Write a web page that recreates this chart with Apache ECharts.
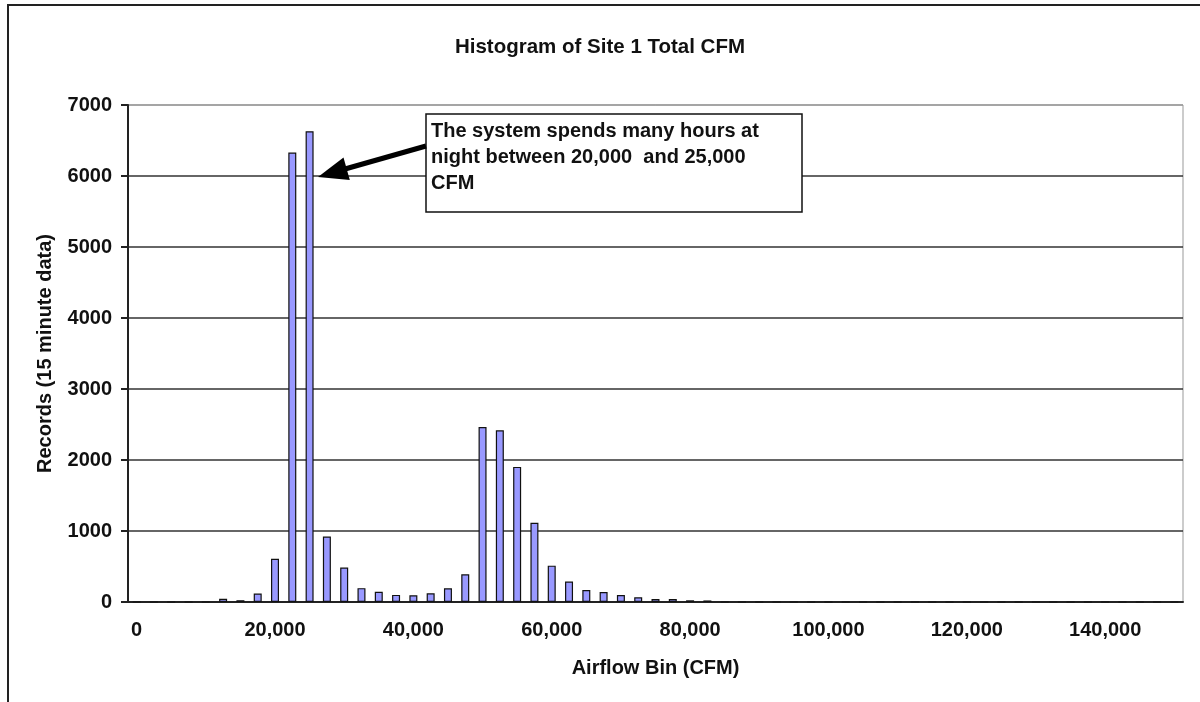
<!DOCTYPE html>
<html>
<head>
<meta charset="utf-8">
<script src="https://cdn.jsdelivr.net/npm/echarts@6/dist/echarts.min.js"></script>
<style>
  html, body { margin: 0; padding: 0; background: #fff; }
  #chart { width: 1200px; height: 702px; }
</style>
</head>
<body>
<div id="chart"></div>
<script>
// airflow bins (CFM), 2,500 wide
const bins = [
  0, 2500, 5000, 7500, 10000, 12500, 15000, 17500, 20000, 22500,
  25000, 27500, 30000, 32500, 35000, 37500, 40000, 42500, 45000, 47500,
  50000, 52500, 55000, 57500, 60000, 62500, 65000, 67500, 70000, 72500,
  75000, 77500, 80000, 82500, 85000, 87500, 90000, 92500, 95000, 97500,
  100000, 102500, 105000, 107500, 110000, 112500, 115000, 117500, 120000, 122500,
  125000, 127500, 130000, 132500, 135000, 137500, 140000, 142500, 145000, 147500,
  150000
]

// records per bin (15 minute data)
const records = [
  0, 0, 0, 0, 0, 45, 25, 120, 608, 6330,
  6630, 923, 485, 195, 145, 100, 95, 122, 193, 390,
  2465, 2418, 1903, 1115, 512, 287, 170, 141, 99, 66,
  42, 42, 24, 22, 0, 0, 0, 0, 0, 0,
  0, 0, 0, 0, 0, 0, 0, 0, 0, 0,
  0, 0, 0, 0, 0, 0, 0, 0, 0, 0,
  0
]

const yTicks = [0, 1000, 2000, 3000, 4000, 5000, 6000, 7000]

const noteLines = [
  'The system spends many hours at',
  'night between 20,000  and 25,000',
  'CFM'
]

const font = '"Liberation Sans", Arial, sans-serif'
const txt = { fontFamily: font, fontWeight: 'bold', fontSize: 20, color: '#111' }

const chart = echarts.init(document.getElementById('chart'))

chart.setOption({
  backgroundColor: '#fff',
  animation: false,
  title: {
    text: 'Histogram of Site 1 Total CFM',
    left: 'center',
    top: 32,
    textStyle: { ...txt, fontSize: 20.5 }
  },
  grid: {
    left: 128,
    right: 17,
    top: 105,
    bottom: 100,
    show: true,
    borderColor: '#999',
    borderWidth: 1
  },
  xAxis: {
    type: 'category',
    data: bins,
    boundaryGap: true,
    name: 'Airflow Bin (CFM)',
    nameLocation: 'middle',
    nameGap: 56,
    nameTextStyle: { ...txt },
    axisLine: { lineStyle: { color: '#222', width: 2 } },
    axisTick: { interval: 7, length: 8, lineStyle: { color: '#222', width: 2 } },
    axisLabel: {
      interval: 7,
      margin: 18,
      ...txt,
      formatter: v => Number(v).toLocaleString('en-US')
    },
    splitLine: { show: false }
  },
  yAxis: {
    type: 'value',
    min: yTicks[0],
    max: yTicks[yTicks.length - 1],
    interval: 1000,
    name: 'Records (15 minute data)',
    nameLocation: 'middle',
    nameGap: 73,
    nameTextStyle: { ...txt },
    axisLine: { show: true, lineStyle: { color: '#222', width: 2 } },
    axisTick: { show: true, length: 7, lineStyle: { color: '#222', width: 2 } },
    axisLabel: { margin: 16, ...txt, formatter: v => String(v) },
    splitLine: {
      lineStyle: {
        color: ['#333', '#333', '#333', '#333', '#333', '#333', '#333', '#999'],
        width: 1.5
      }
    }
  },
  series: [{
    type: 'bar',
    data: records,
    barWidth: 8,
    itemStyle: { color: '#9999ff', borderColor: '#111', borderWidth: 1.2 }
  }],
  graphic: [
    // outer frame (only top and left edges are visible)
    {
      type: 'rect', silent: true, z: 0,
      shape: { x: 8, y: 5, width: 1300, height: 800 },
      style: { fill: null, stroke: '#222', lineWidth: 2 }
    },
    // annotation box
    {
      type: 'rect', z: 10,
      shape: { x: 426, y: 114, width: 376, height: 98 },
      style: { fill: '#fff', stroke: '#111', lineWidth: 1.5 }
    },
    {
      type: 'text', z: 11,
      left: 431, top: 118,
      style: {
        text: noteLines.join('\n'),
        font: 'bold 20px ' + font,
        fill: '#111',
        lineHeight: 26
      }
    },
    // arrow shaft and head
    {
      type: 'line', z: 10,
      shape: { x1: 426, y1: 146, x2: 345, y2: 169 },
      style: { stroke: '#000', lineWidth: 5 }
    },
    {
      type: 'polygon', z: 10,
      shape: { points: [[318, 177], [349.8, 180], [343.5, 157.5]] },
      style: { fill: '#000' }
    }
  ]
})
</script>
</body>
</html>
